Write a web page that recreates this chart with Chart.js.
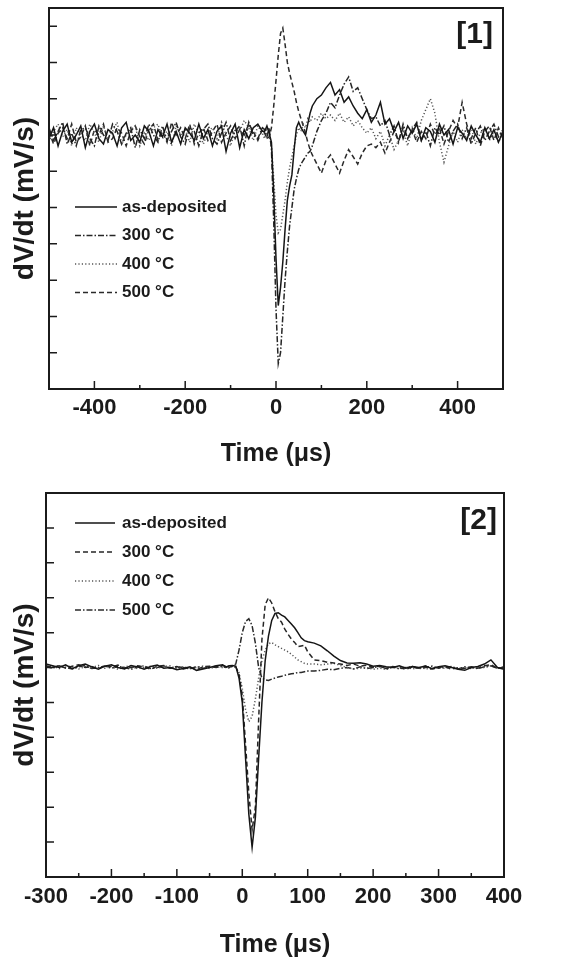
<!DOCTYPE html>
<html lang="en">
<head>
<meta charset="utf-8">
<title>dV/dt transients</title>
<script src="https://cdn.jsdelivr.net/npm/chart.js@4.4.1/dist/chart.umd.min.js"></script>
<style>
    body {
        margin: 0;
        background: #fff;
    }

    .panel {
        position: relative;
        width: 566px;
    }

    #p1 { height: 470px; }
    #p2 { height: 491px; }
</style>
</head>
<body>
<div class="panel" id="p1"><canvas id="chart1"></canvas></div>
<div class="panel" id="p2"><canvas id="chart2"></canvas></div>

<script>
    // ---- panel [1] ----
    const time1 = [
        -500, -490, -480, -470, -460, -450, -440, -430, -420, -410,
        -400, -390, -380, -370, -360, -350, -340, -330, -320, -310,
        -300, -290, -280, -270, -260, -250, -240, -230, -220, -210,
        -200, -190, -180, -170, -160, -150, -140, -130, -120, -110,
        -100, -90, -80, -70, -60, -50, -40, -30,
        -25, -20, -15, -10, -5, 0, 5, 10, 15, 20, 25, 30, 35, 40, 45, 50, 55, 60, 65, 70, 75, 80,
        90, 100, 110, 120, 130, 140, 150, 160, 170, 180,
        190, 200, 210, 220, 230, 240, 250, 260, 270, 280,
        290, 300, 310, 320, 330, 340, 350, 360, 370, 380,
        390, 400, 410, 420, 430, 440, 450, 460, 470, 480,
        490, 500
    ];
    const asDep1 = [
        -0.10, 0.20, -0.30, 0.10, 0.30, -0.20, 0.00, 0.25, -0.35, 0.10,
        0.30, -0.10, -0.25, 0.15, 0.05, -0.30, 0.20, 0.35, -0.15, 0.00,
        -0.20, 0.25, 0.10, -0.30, 0.15, -0.05, 0.30, -0.20, 0.10, -0.25,
        0.20, 0.05, -0.15, 0.30, -0.10, 0.15, -0.30, 0.10, 0.25, -0.45,
        0.05, 0.30, -0.35, 0.15, -0.10, 0.20, 0.30, 0.10,
        0.10, 0.25, 0.05, -0.20, -1.60, -3.40, -4.70, -4.20, -3.50, -2.60, -1.80, -1.40, -1.10, -0.40, 0.20, 0.35, 0.20, 0.10, 0.00, 0.30, 0.60, 0.80,
        1.00, 1.10, 1.30, 1.45, 1.10, 1.25, 0.90, 1.05, 0.80, 0.60,
        0.45, 0.70, 0.35, 0.55, 0.90, 0.30, 0.45, 0.10, 0.35, -0.10,
        0.25, 0.05, 0.30, -0.15, 0.20, 0.10, -0.20, 0.30, 0.00, 0.15,
        -0.25, 0.20, 0.05, -0.15, 0.25, 0.00, -0.20, 0.20, -0.10, 0.15,
        -0.20, 0.10
    ];
    const c300_1 = [
        0.20, -0.15, 0.10, 0.35, -0.25, 0.05, -0.30, 0.15, 0.20, -0.10,
        -0.30, 0.25, 0.00, -0.15, 0.30, 0.10, -0.25, 0.05, 0.20, -0.35,
        0.15, -0.10, 0.30, 0.00, -0.20, 0.25, -0.15, 0.10, 0.35, -0.05,
        -0.25, 0.20, 0.10, -0.30, 0.15, 0.30, -0.10, -0.25, 0.05, 0.35,
        -0.15, 0.10, 0.25, -0.30, 0.35, 0.00, -0.10, 0.20,
        0.15, -0.05, 0.20, -0.40, -2.40, -4.80, -6.30, -6.00, -5.00, -4.00, -3.20, -2.50, -2.00, -1.50, -1.20, -0.95, -0.80, -0.70, -0.60, -0.50, -0.45, -0.30,
        0.10, 0.40, 0.60, 0.90, 0.75, 1.10, 1.40, 1.60, 1.20, 1.30,
        1.00, 0.70, 0.45, 0.50, 0.25, 0.40, 0.00, 0.25, -0.20, 0.30,
        -0.10, 0.15, 0.35, -0.15, 0.10, -0.30, 0.20, 0.00, 0.25, -0.20,
        0.10, 0.30, -0.10, 0.20, -0.25, 0.05, 0.25, -0.15, 0.10, 0.30,
        -0.05, 0.15
    ];
    const c400_1 = [
        -0.20, 0.10, 0.30, -0.05, 0.15, -0.30, 0.20, 0.00, -0.15, 0.30,
        0.05, -0.20, 0.25, -0.10, 0.10, 0.35, -0.25, 0.00, 0.15, 0.25,
        -0.30, 0.05, -0.15, 0.20, 0.30, -0.10, 0.10, -0.30, 0.25, 0.00,
        0.15, -0.20, 0.30, 0.05, -0.25, 0.10, 0.20, -0.10, 0.35, 0.00,
        -0.30, 0.15, 0.10, 0.40, 0.20, -0.15, 0.25, 0.05,
        -0.10, 0.20, 0.00, -0.30, -1.20, -2.20, -2.70, -2.60, -2.20, -1.80, -1.30, -0.90, -0.60, -0.30, 0.00, 0.20, 0.10, 0.30, 0.20, 0.45, 0.35, 0.50,
        0.40, 0.60, 0.45, 0.55, 0.40, 0.60, 0.35, 0.50, 0.25, 0.40,
        0.20, 0.05, 0.20, -0.10, 0.10, -0.30, 0.00, -0.40, -0.15, 0.10,
        -0.30, 0.20, -0.10, 0.40, 0.70, 1.00, 0.60, -0.20, -0.75, -0.30,
        0.10, -0.20, 0.15, -0.10, 0.20, -0.25, 0.05, 0.20, -0.15, 0.10,
        -0.20, 0.05
    ];
    const c500_1 = [
        0.10, -0.25, 0.05, 0.20, -0.10, 0.30, -0.20, -0.05, 0.25, -0.30,
        0.15, 0.00, 0.30, -0.20, -0.10, 0.20, 0.05, -0.30, 0.10, 0.25,
        -0.05, -0.25, 0.15, 0.30, -0.15, 0.10, -0.20, 0.35, 0.00, 0.20,
        -0.10, 0.30, -0.25, 0.05, 0.20, -0.15, 0.10, 0.30, -0.20, 0.05,
        0.25, -0.10, 0.15, 0.00, 0.30, 0.10, -0.15, 0.15,
        0.05, -0.10, -0.05, 0.20, 0.80, 1.50, 2.20, 2.80, 2.95, 2.50, 2.00, 1.70, 1.45, 1.20, 0.90, 0.65, 0.45, 0.25, 0.05, -0.20, -0.40, -0.55,
        -0.80, -1.05, -0.70, -0.55, -0.80, -1.05, -0.70, -0.40, -0.60, -0.80,
        -0.50, -0.30, -0.25, -0.35, -0.20, -0.50, -0.20, 0.10, -0.15, 0.20,
        -0.10, 0.15, -0.20, 0.10, -0.10, 0.30, 0.00, 0.20, -0.25, 0.10,
        0.40, 0.20, 0.90, 0.30, -0.10, 0.20, -0.30, 0.10, 0.25, -0.15,
        0.20, -0.10
    ];
    const xLabels1 = [-400, -200, 0, 200, 400];

    // ---- panel [2] ----
    const time2 = [
        -300, -290, -280, -270, -260, -250, -240, -230, -220, -210,
        -200, -190, -180, -170, -160, -150, -140, -130, -120, -110,
        -100, -90, -80, -70, -60, -50, -40, -30,
        -25, -20, -15, -10, -5, 0, 5, 10, 15, 20, 25, 30, 35, 40, 45, 50, 55, 60, 65, 70, 75, 80, 85, 90, 95, 100,
        110, 120, 130, 140, 150, 160, 170, 180, 190, 200,
        210, 220, 230, 240, 250, 260, 270, 280, 290, 300,
        310, 320, 330, 340, 350, 360, 370, 380, 390, 400
    ];
    const asDep2 = [
        0.10, 0.05, 0.00, 0.08, -0.03, 0.05, 0.10, 0.02, -0.05, 0.04,
        0.08, 0.00, -0.04, 0.06, 0.02, -0.05, 0.03, 0.07, -0.02, 0.00,
        -0.06, -0.03, 0.02, -0.08, -0.04, 0.00, 0.05, 0.08,
        0.02, 0.05, 0.06, 0.04, -0.30, -1.00, -2.60, -4.20, -5.15, -4.30, -2.60, -1.00, 0.20, 0.90, 1.35, 1.55, 1.57, 1.50, 1.45, 1.35, 1.25, 1.14, 1.00, 0.85, 0.77, 0.74,
        0.70, 0.62, 0.48, 0.33, 0.20, 0.13, 0.12, 0.14, 0.10, 0.04,
        0.06, 0.02, 0.00, 0.05, -0.02, 0.03, 0.00, 0.04, -0.03, 0.02,
        0.05, 0.00, -0.05, -0.08, 0.00, 0.03, 0.10, 0.22, 0.00, -0.05
    ];
    const c300_2 = [
        0.05, 0.00, 0.06, -0.02, 0.04, 0.08, 0.00, 0.03, -0.04, 0.06,
        0.02, 0.07, -0.03, 0.00, 0.05, 0.02, -0.05, 0.04, 0.06, -0.02,
        0.03, -0.04, 0.00, -0.06, 0.02, 0.04, 0.00, 0.06,
        0.03, 0.00, 0.05, 0.03, -0.20, -0.80, -2.20, -3.60, -4.65, -4.00, -1.50, 0.80, 1.80, 2.00, 1.85, 1.60, 1.40, 1.30, 1.10, 0.95, 0.82, 0.72, 0.60, 0.62, 0.64, 0.45,
        0.22, 0.20, 0.15, 0.13, 0.10, 0.06, 0.10, 0.04, 0.07, 0.00,
        0.05, -0.03, 0.03, 0.00, -0.05, 0.02, -0.02, 0.04, -0.04, 0.00,
        0.03, -0.05, 0.00, -0.03, 0.02, -0.02, 0.05, 0.08, -0.02, 0.00
    ];
    const c400_2 = [
        0.00, 0.04, -0.03, 0.05, 0.02, -0.04, 0.03, 0.00, 0.06, -0.02,
        0.04, -0.05, 0.02, 0.05, -0.03, 0.00, 0.04, -0.02, 0.03, 0.05,
        -0.04, 0.02, -0.02, 0.00, 0.04, -0.03, 0.02, 0.00,
        0.02, -0.02, 0.03, 0.00, -0.15, -0.60, -1.20, -1.55, -1.40, -0.90, -0.30, 0.20, 0.50, 0.68, 0.72, 0.65, 0.60, 0.55, 0.50, 0.45, 0.38, 0.30, 0.22, 0.17, 0.12, 0.10,
        0.10, 0.08, 0.10, 0.12, 0.06, 0.00, -0.04, -0.02, 0.00, -0.05,
        -0.02, -0.06, 0.00, -0.03, 0.02, -0.04, 0.00, -0.03, -0.05, 0.00,
        -0.02, 0.02, -0.04, 0.00, -0.03, 0.02, 0.00, 0.05, -0.02, 0.00
    ];
    const c500_2 = [
        0.03, -0.02, 0.05, 0.00, -0.04, 0.02, 0.06, -0.03, 0.00, 0.04,
        -0.02, 0.03, 0.00, -0.05, 0.02, 0.05, -0.03, 0.00, 0.04, -0.02,
        0.02, 0.00, -0.04, 0.03, -0.02, 0.00, 0.04, 0.02,
        0.00, 0.04, 0.05, 0.10, 0.50, 1.00, 1.32, 1.40, 1.20, 0.70, 0.00, -0.30, -0.35, -0.37, -0.33, -0.30, -0.27, -0.25, -0.22, -0.20, -0.18, -0.17, -0.14, -0.14, -0.12, -0.10,
        -0.10, -0.08, -0.05, -0.06, -0.02, 0.00, -0.04, 0.02, -0.03, 0.00,
        0.03, -0.02, 0.02, -0.04, 0.00, 0.03, -0.03, 0.00, 0.04, -0.02,
        0.00, 0.03, -0.04, 0.02, 0.00, -0.03, 0.02, 0.05, -0.02, 0.02
    ];
    const xLabels2 = [-300, -200, -100, 0, 100, 200, 300, 400];

    const seriesNames = ['as-deposited', '300 \u00B0C', '400 \u00B0C', '500 \u00B0C'];

    const FONT = '"Liberation Sans", Arial, sans-serif';
    const INK = '#1b1b1b';
    const SOLID = [], DASHED = [5, 3], DOTTED = [1.2, 2.2], DASHDOT = [6, 2, 1.5, 2];

    // frame, inward ticks, panel tag and the in-plot legend
    const framePlugin = {
        id: 'frame',
        afterDraw(chart, args, opts) {
            const ctx = chart.ctx;
            const a = chart.chartArea;
            const x = chart.scales.x, y = chart.scales.y;
            ctx.save();
            ctx.strokeStyle = INK;
            ctx.lineWidth = 2;
            ctx.strokeRect(a.left, a.top, a.right - a.left, a.bottom - a.top);

            ctx.lineWidth = 1.5;
            ctx.beginPath();
            x.ticks.forEach(t => {
                if (t.value <= x.min || t.value >= x.max) return;
                const px = x.getPixelForValue(t.value);
                const len = t.value % opts.majorStep === 0 ? 8 : 4;
                ctx.moveTo(px, a.bottom);
                ctx.lineTo(px, a.bottom - len);
            });
            y.ticks.forEach(t => {
                if (t.value <= y.min || t.value >= y.max || !Number.isInteger(t.value)) return;
                const py = y.getPixelForValue(t.value);
                ctx.moveTo(a.left, py);
                ctx.lineTo(a.left + 8, py);
            });
            ctx.stroke();

            ctx.fillStyle = INK;
            ctx.font = 'bold 30px ' + FONT;
            ctx.textAlign = 'right';
            ctx.textBaseline = 'middle';
            ctx.fillText(opts.tag, a.right - opts.tagDx, a.top + opts.tagDy);

            // legend
            const lg = opts.legend;
            ctx.font = 'bold 17px ' + FONT;
            ctx.textAlign = 'left';
            chart.data.datasets.forEach((ds, i) => {
                const ly = a.top + lg.top + i * lg.gap;
                ctx.save();
                ctx.strokeStyle = ds.borderColor;
                ctx.lineWidth = ds.borderWidth;
                ctx.setLineDash(ds.borderDash);
                ctx.beginPath();
                ctx.moveTo(a.left + lg.x0, ly);
                ctx.lineTo(a.left + lg.x1, ly);
                ctx.stroke();
                ctx.restore();
                ctx.fillText(ds.label, a.left + lg.tx, ly);
            });
            ctx.restore();
        }
    };

    function makeChart(id, time, series, dashes, colors, cfg) {
        const datasets = series.map((vals, i) => ({
            label: seriesNames[i],
            data: vals.map((v, j) => ({x: time[j], y: v})),
            borderColor: colors[i],
            borderWidth: 1.5,
            borderDash: dashes[i],
            pointRadius: 0,
            tension: 0,
            fill: false
        }));

        return new Chart(document.getElementById(id), {
            type: 'line',
            data: {datasets: datasets},
            options: {
                responsive: true,
                maintainAspectRatio: false,
                animation: false,
                layout: {padding: cfg.padding},
                plugins: {
                    legend: {display: false},
                    tooltip: {enabled: false},
                    frame: cfg.frame
                },
                scales: {
                    x: {
                        type: 'linear',
                        min: cfg.xMin,
                        max: cfg.xMax,
                        grid: {display: false, drawTicks: false},
                        border: {display: false},
                        ticks: {
                            stepSize: cfg.xStep,
                            autoSkip: false,
                            maxRotation: 0,
                            padding: cfg.tickPad,
                            color: INK,
                            font: {family: FONT, size: 22, weight: 'bold', lineHeight: 1.2},
                            callback: v => cfg.xLabels.includes(v) ? String(v) : ''
                        },
                        title: {
                            display: true,
                            text: 'Time (\u03BCs)',
                            color: INK,
                            font: {family: FONT, size: 25, weight: 'bold', lineHeight: 1.2},
                            padding: {top: 0, bottom: cfg.xTitlePad}
                        },
                        afterFit: s => { s.height = cfg.xHeight; }
                    },
                    y: {
                        min: cfg.yMin,
                        max: cfg.yMax,
                        grid: {display: false, drawTicks: false},
                        border: {display: false},
                        ticks: {display: false, stepSize: 1},
                        title: {
                            display: true,
                            text: 'dV/dt (mV/s)',
                            color: INK,
                            font: {family: FONT, size: 28, weight: 'bold', lineHeight: 1.2},
                            padding: {top: 8, bottom: 0}
                        },
                        afterFit: s => { s.width = cfg.yWidth; }
                    }
                }
            },
            plugins: [framePlugin]
        });
    }

    makeChart('chart1', time1, [asDep1, c300_1, c400_1, c500_1],
        [SOLID, DASHDOT, DOTTED, DASHED],
        ['#151515', '#262626', '#555555', '#2a2a2a'],
        {
            padding: {left: 0, right: 63, top: 8, bottom: 0},
            xMin: -500, xMax: 500, xStep: 100, xLabels: xLabels1,
            yMin: -7, yMax: 3.5,
            xHeight: 81, yWidth: 49, tickPad: 6, xTitlePad: 1,
            frame: {
                majorStep: 200, tag: '[1]', tagDx: 10, tagDy: 27,
                legend: {top: 199, gap: 28.5, x0: 26, x1: 68, tx: 73}
            }
        });

    makeChart('chart2', time2, [asDep2, c300_2, c400_2, c500_2],
        [SOLID, DASHED, DOTTED, DASHDOT],
        ['#151515', '#262626', '#555555', '#2a2a2a'],
        {
            padding: {left: 0, right: 62, top: 23, bottom: 0},
            xMin: -300, xMax: 400, xStep: 50, xLabels: xLabels2,
            yMin: -6, yMax: 5,
            xHeight: 84, yWidth: 46, tickPad: 7, xTitlePad: 1,
            frame: {
                majorStep: 100, tag: '[2]', tagDx: 7, tagDy: 28,
                legend: {top: 30, gap: 29, x0: 29, x1: 69, tx: 76}
            }
        });
</script>
</body>
</html>
